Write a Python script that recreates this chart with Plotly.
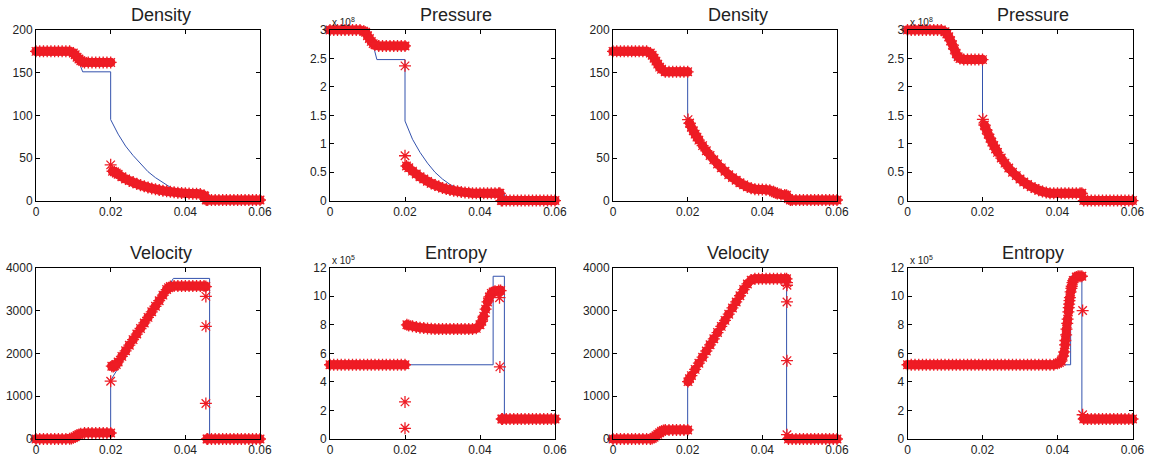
import plotly.graph_objects as go

# ---------------- data ----------------
X_GRID = [round(0.001 * i, 3) for i in range(61)]
X_TICKS = [0, 0.02, 0.04, 0.06]
X_TICK_TEXT = ["0", "0.02", "0.04", "0.06"]

# exact solutions (blue lines)
EX_RHO_X = [0, 0.0105, 0.011, 0.0115, 0.012, 0.0125, 0.02, 0.02, 0.022, 0.024, 0.026, 0.028,
            0.03, 0.032, 0.034, 0.036, 0.037, 0.0435, 0.0435, 0.0465, 0.0465, 0.06]
EX_RHO_Y = [175, 175, 168.5, 162.5, 156.5, 151, 151, 95, 78, 64, 53, 43,
            34, 27, 21, 15.5, 12.8, 12.8, 7, 7, 0.8, 0.8]

EX_P_X = [0, 0.0105, 0.011, 0.0115, 0.012, 0.0125, 0.02, 0.02, 0.022, 0.024, 0.026, 0.028,
          0.03, 0.032, 0.034, 0.036, 0.037, 0.0465, 0.0465, 0.06]
EX_P_Y = [3.0, 3.0, 2.87, 2.74, 2.61, 2.48, 2.48, 1.40, 1.08, 0.85, 0.66, 0.50,
          0.38, 0.285, 0.215, 0.16, 0.135, 0.135, 0.003, 0.003]   # x 1e8

EX_U_X = [0, 0.0105, 0.0125, 0.02, 0.02, 0.0368, 0.0465, 0.0465, 0.06]
EX_U_Y = [0, 0, 220, 220, 1370, 3750, 3750, 0, 0]

EX_S_X = [0, 0.0435, 0.0435, 0.0465, 0.0465, 0.06]
EX_S_Y = [5.2, 5.2, 11.4, 11.4, 1.4, 1.4]   # x 1e5

# numerical solutions (red asterisks) on X_GRID, extra band samples, stray samples
RHO_NUM_A = [175, 175, 175, 175, 175, 175, 175, 175, 175, 175,
             173, 168, 164, 162, 162, 162, 162, 162, 162, 162, 162,
             34, 31, 28, 25.5, 23.5, 21.5, 19.8, 18.2, 16.8, 15.5, 14.4, 13.4, 12.5,
             11.7, 11, 10.4, 9.9, 9.4, 9, 8.7, 8.4, 8.2, 8, 7.8, 6,
             0.8, 0.8, 0.8, 0.8, 0.8, 0.8, 0.8, 0.8, 0.8, 0.8, 0.8, 0.8, 0.8, 0.8, 0.8]
RHO_EXTRA_A_X = [0.0105, 0.0115, 0.0125, 0.0205, 0.0215, 0.0452, 0.0456]
RHO_EXTRA_A_Y = [171, 166, 163, 34.5, 32.5, 5, 0.8]
RHO_STRAY_A_X = [0.0200]
RHO_STRAY_A_Y = [42]

P_NUM_A = [3.0, 3.0, 3.0, 3.0, 3.0, 3.0, 3.0, 3.0, 3.0,
           2.98, 2.9, 2.8, 2.74, 2.72, 2.72, 2.72, 2.72, 2.72, 2.72, 2.72, 2.72,
           0.58, 0.52, 0.47, 0.42, 0.38, 0.34, 0.305, 0.275, 0.25, 0.225, 0.205,
           0.19, 0.175, 0.165, 0.155, 0.145, 0.14,
           0.13, 0.13, 0.13, 0.13, 0.13, 0.13, 0.13, 0.13,
           0.003, 0.003, 0.003, 0.003, 0.003, 0.003, 0.003, 0.003, 0.003, 0.003,
           0.003, 0.003, 0.003, 0.003, 0.003]
P_EXTRA_A_X = [0.0095, 0.0105, 0.0115, 0.0204, 0.0453, 0.0457]
P_EXTRA_A_Y = [2.96, 2.85, 2.76, 0.61, 0.13, 0.003]
P_STRAY_A_X = [0.0200, 0.0200]
P_STRAY_A_Y = [2.37, 0.79]

RHO_NUM_B = [175, 175, 175, 175, 175, 175, 175, 175, 175, 175,
             173, 167, 160, 154, 151, 151, 151, 151, 151, 151, 151,
             86, 78, 71, 64.5, 58.5, 53, 48, 43, 38.5, 34.5, 30.5, 27, 24, 21, 18.5,
             16.2, 14.5, 13.5, 13.2, 13, 12.8, 12.2, 10.5, 8.3, 7.2, 6.8, 2.5,
             0.8, 0.8, 0.8, 0.8, 0.8, 0.8, 0.8, 0.8, 0.8, 0.8, 0.8, 0.8, 0.8]
RHO_EXTRA_B_X = [0.0105, 0.0115, 0.0125, 0.0205, 0.0215, 0.0225, 0.0435, 0.0465, 0.0475]
RHO_EXTRA_B_Y = [170.5, 163.5, 156.5, 91, 82, 74.5, 9.3, 6.5, 0.8]
RHO_STRAY_B_X = [0.0201]
RHO_STRAY_B_Y = [95]

P_NUM_B = [3.0, 3.0, 3.0, 3.0, 3.0, 3.0, 3.0, 3.0, 3.0, 3.0,
           2.97, 2.88, 2.74, 2.58, 2.50, 2.48, 2.48, 2.48, 2.48, 2.48, 2.48,
           1.25, 1.10, 0.97, 0.85, 0.75, 0.66, 0.575, 0.50, 0.44, 0.38, 0.33,
           0.285, 0.245, 0.215, 0.185, 0.16, 0.145,
           0.13, 0.13, 0.13, 0.13, 0.13, 0.13, 0.13, 0.13, 0.13,
           0.003, 0.003, 0.003, 0.003, 0.003, 0.003, 0.003, 0.003, 0.003, 0.003,
           0.003, 0.003, 0.003, 0.003]
P_EXTRA_B_X = [0.0105, 0.0115, 0.0125, 0.0135, 0.0205, 0.0215, 0.0225, 0.0235, 0.0465]
P_EXTRA_B_Y = [2.93, 2.81, 2.66, 2.53, 1.33, 1.17, 1.03, 0.91, 0.13]
P_STRAY_B_X = [0.0201]
P_STRAY_B_Y = [1.43]

U_NUM_A = [0, 0, 0, 0, 0, 0, 0, 0, 0,
           5, 30, 80, 125, 140, 140, 140, 140, 140, 140, 140, 140,
           1710, 1800, 1930, 2060, 2190, 2320, 2450, 2580, 2710, 2840, 2970, 3100,
           3230, 3360, 3490, 3560,
           3570, 3570, 3570, 3570, 3570, 3570, 3570, 3570, 3570,
           0, 0, 0, 0, 0, 0, 0, 0, 0, 0, 0, 0, 0, 0, 0]
U_EXTRA_A_X = [0.0095, 0.0105, 0.0115, 0.0203, 0.0207, 0.0215, 0.0355, 0.0455, 0.0458]
U_EXTRA_A_Y = [12, 50, 105, 1700, 1695, 1740, 3530, 3560, 0]
U_STRAY_A_X = [0.0200, 0.0455, 0.0455, 0.0455]
U_STRAY_A_Y = [1350, 3330, 2630, 830]

S_NUM_A = [5.2, 5.2, 5.2, 5.2, 5.2, 5.2, 5.2, 5.2, 5.2, 5.2, 5.2,
           5.2, 5.2, 5.2, 5.2, 5.2, 5.2, 5.2, 5.2, 5.2, 5.2,
           7.95, 7.9, 7.85, 7.8, 7.77, 7.74, 7.72,
           7.7, 7.7, 7.7, 7.7, 7.7, 7.7, 7.7, 7.7, 7.7, 7.7, 7.7,
           7.75, 8.0, 8.6, 9.6, 10.2, 10.35, 10.4,
           1.4, 1.4, 1.4, 1.4, 1.4, 1.4, 1.4, 1.4, 1.4, 1.4, 1.4, 1.4, 1.4, 1.4, 1.4]
S_EXTRA_A_X = [0.0205, 0.0405, 0.0415, 0.0425, 0.0435, 0.0455, 0.0458]
S_EXTRA_A_Y = [8.0, 8.25, 9.1, 9.95, 10.3, 10.4, 1.4]
S_STRAY_A_X = [0.0200, 0.0200, 0.0452, 0.0453]
S_STRAY_A_Y = [2.6, 0.75, 9.9, 5.05]

U_NUM_B = [0, 0, 0, 0, 0, 0, 0, 0, 0, 0, 0,
           40, 110, 180, 210, 212, 212, 212, 212, 212, 212,
           1480, 1625, 1770, 1910, 2055, 2200, 2340, 2485, 2630, 2770, 2915, 3060,
           3200, 3345, 3490, 3620, 3710, 3740,
           3740, 3740, 3740, 3740, 3740, 3740, 3740, 3740,
           0, 0, 0, 0, 0, 0, 0, 0, 0, 0, 0, 0, 0, 0]
U_EXTRA_B_X = [0.0105, 0.0115, 0.0125, 0.0135, 0.0201, 0.0205, 0.0465]
U_EXTRA_B_Y = [10, 75, 145, 200, 1340, 1410, 3740]
U_STRAY_B_X = [0.0466, 0.0466, 0.0466, 0.0466, 0.0466]
U_STRAY_B_Y = [3650, 3200, 1830, 100, 3590]

S_NUM_B = [5.2] * 40 + [5.3, 5.45, 6.6, 9.2, 10.95, 11.35, 11.4] + [1.4] * 14
S_EXTRA_B_X = [0.0405, 0.0415, 0.0418, 0.0421, 0.0423, 0.0424, 0.0426, 0.0427, 0.0429,
               0.0431, 0.0432, 0.0433, 0.0435, 0.0437, 0.0438, 0.0442, 0.0455, 0.0465]
S_EXTRA_B_Y = [5.35, 5.8, 6.1, 6.9, 7.3, 7.7, 8.1, 8.4, 8.9,
               9.45, 9.7, 9.9, 10.3, 10.55, 10.7, 11.1, 11.4, 11.4]
S_STRAY_B_X = [0.0467, 0.0467]
S_STRAY_B_Y = [9.0, 1.7]

# ---------------- panels ----------------
panels = [
    ("Density", EX_RHO_X, EX_RHO_Y, RHO_NUM_A, RHO_EXTRA_A_X, RHO_EXTRA_A_Y, RHO_STRAY_A_X, RHO_STRAY_A_Y,
     [0, 200], [0, 50, 100, 150, 200], None),
    ("Pressure", EX_P_X, EX_P_Y, P_NUM_A, P_EXTRA_A_X, P_EXTRA_A_Y, P_STRAY_A_X, P_STRAY_A_Y,
     [0, 3], [0, 0.5, 1, 1.5, 2, 2.5, 3], "8"),
    ("Density", EX_RHO_X, EX_RHO_Y, RHO_NUM_B, RHO_EXTRA_B_X, RHO_EXTRA_B_Y, RHO_STRAY_B_X, RHO_STRAY_B_Y,
     [0, 200], [0, 50, 100, 150, 200], None),
    ("Pressure", EX_P_X, EX_P_Y, P_NUM_B, P_EXTRA_B_X, P_EXTRA_B_Y, P_STRAY_B_X, P_STRAY_B_Y,
     [0, 3], [0, 0.5, 1, 1.5, 2, 2.5, 3], "8"),
    ("Velocity", EX_U_X, EX_U_Y, U_NUM_A, U_EXTRA_A_X, U_EXTRA_A_Y, U_STRAY_A_X, U_STRAY_A_Y,
     [0, 4000], [0, 1000, 2000, 3000, 4000], None),
    ("Entropy", EX_S_X, EX_S_Y, S_NUM_A, S_EXTRA_A_X, S_EXTRA_A_Y, S_STRAY_A_X, S_STRAY_A_Y,
     [0, 12], [0, 2, 4, 6, 8, 10, 12], "5"),
    ("Velocity", EX_U_X, EX_U_Y, U_NUM_B, U_EXTRA_B_X, U_EXTRA_B_Y, U_STRAY_B_X, U_STRAY_B_Y,
     [0, 4000], [0, 1000, 2000, 3000, 4000], None),
    ("Entropy", EX_S_X, EX_S_Y, S_NUM_B, S_EXTRA_B_X, S_EXTRA_B_Y, S_STRAY_B_X, S_STRAY_B_Y,
     [0, 12], [0, 2, 4, 6, 8, 10, 12], "5"),
]

W, H = 1157, 459
COL_PX = [(36, 260), (330, 555), (613, 837), (907.5, 1132.5)]
ROW_PX = [(30, 200.7), (267.7, 439)]
FONT = "Liberation Sans, Arial, Helvetica, sans-serif"
TXT = "#222222"
BLUE = "#3352ad"
RED = "#ee1c25"

fig = go.Figure()
layout = dict(width=W, height=H, margin=dict(l=0, r=0, t=0, b=0, pad=0),
              paper_bgcolor="white", plot_bgcolor="white", showlegend=False,
              font=dict(family=FONT, size=12, color=TXT))
annotations = []

for k, (title, ex_x, ex_y, num_y, ext_x, ext_y, st_x, st_y, yr, yt, expo) in enumerate(panels):
    r, c = divmod(k, 4)
    n = k + 1
    xa = "x" if n == 1 else f"x{n}"
    ya = "y" if n == 1 else f"y{n}"
    x0, x1 = COL_PX[c]
    y0, y1 = ROW_PX[r]
    axis_common = dict(showgrid=False, zeroline=False, showline=True, linecolor="black",
                       linewidth=1, mirror="ticks", ticks="inside", ticklen=4,
                       tickcolor="black", tickwidth=1, automargin=False,
                       tickfont=dict(family=FONT, size=12, color=TXT))
    layout["xaxis" if n == 1 else f"xaxis{n}"] = dict(
        domain=[x0 / W, x1 / W], anchor=ya, range=[0, 0.06],
        tickvals=X_TICKS, ticktext=X_TICK_TEXT, **axis_common)
    layout["yaxis" if n == 1 else f"yaxis{n}"] = dict(
        domain=[1 - y1 / H, 1 - y0 / H], anchor=xa, range=yr,
        tickvals=yt, ticktext=[("%g" % v) for v in yt], **axis_common)

    # exact solution first, numerical on top
    fig.add_trace(go.Scatter(
        x=ex_x, y=ex_y, xaxis=xa, yaxis=ya, mode="lines",
        line=dict(color=BLUE, width=1)))
    band_x = X_GRID + ext_x
    band_y = num_y + ext_y
    fig.add_trace(go.Scatter(
        x=band_x, y=band_y, xaxis=xa, yaxis=ya, mode="markers", cliponaxis=False,
        marker=dict(symbol="circle", size=9.5, color=RED, line=dict(width=0))))
    fig.add_trace(go.Scatter(
        x=band_x + st_x, y=band_y + st_y, xaxis=xa, yaxis=ya, mode="markers",
        cliponaxis=False,
        marker=dict(symbol="asterisk-open", size=10, color=RED,
                    line=dict(color=RED, width=1.3))))

    annotations.append(dict(
        text=title, xref=f"{xa} domain", yref=f"{ya} domain", x=0.5, y=1,
        xanchor="center", yanchor="bottom", xshift=13, yshift=3, showarrow=False,
        font=dict(family=FONT, size=18, color=TXT)))
    if expo:
        annotations.append(dict(
            text=f"x 10<sup>{expo}</sup>", xref=f"{xa} domain", yref=f"{ya} domain",
            x=0, y=1, xanchor="left", yanchor="bottom", yshift=0, showarrow=False,
            font=dict(family=FONT, size=10, color=TXT)))

layout["annotations"] = annotations
fig.update_layout(**layout)
fig.write_html("out.html", post_script="document.body.style.margin='0';")
